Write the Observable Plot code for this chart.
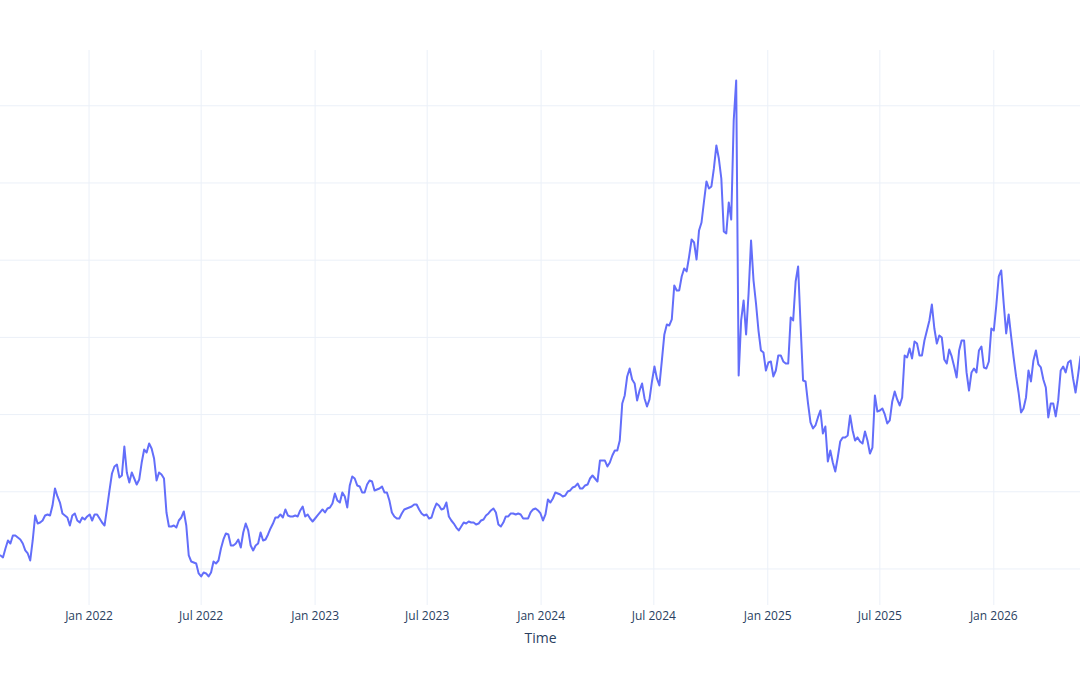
<!DOCTYPE html>
<html>
<head>
<meta charset="utf-8">
<script src="https://cdn.jsdelivr.net/npm/d3@7"></script>
<script src="https://cdn.jsdelivr.net/npm/@observablehq/plot@0.6"></script>
<style>
  html, body { margin: 0; padding: 0; background: #ffffff; }
  #chart { width: 1080px; height: 675px; }
</style>
</head>
<body>
<div id="chart"></div>
<script>
// ---- data ----
const startDate = "2021-08-11";   // first observation
const stepDays = 4;               // one reading every 4 days
const values = [
  11.75,11.49,12.65,13.69,13.30,14.34,14.34,14.08,13.82,13.30,
  12.40,12.01,11.10,13.69,16.93,15.89,16.02,16.28,16.93,17.06,
  16.93,18.22,20.43,19.39,18.61,17.19,16.93,16.67,15.63,16.93,
  17.19,16.28,16.02,16.67,16.41,16.80,17.06,16.28,17.06,17.06,
  16.54,16.02,15.63,17.84,20.17,22.37,23.28,23.53,21.85,22.11,
  25.86,22.50,21.20,22.50,21.72,20.94,21.59,23.79,25.47,25.09,
  26.25,25.60,24.31,21.46,22.50,22.24,21.72,17.32,15.50,15.50,
  15.63,15.37,16.28,16.67,17.45,15.63,11.75,10.97,10.84,10.71,
  9.42,9.03,9.55,9.42,9.03,9.55,10.97,10.71,11.10,12.65,
  13.82,14.60,14.47,13.04,13.04,13.30,13.82,12.78,14.73,15.89,
  14.99,13.04,12.40,13.04,13.30,14.73,13.69,13.82,14.47,15.25,
  15.89,16.67,16.67,17.06,16.67,17.71,16.93,16.80,16.80,16.93,
  16.80,17.58,18.09,16.80,17.06,16.54,16.15,16.54,16.93,17.32,
  17.71,17.32,17.84,17.97,18.48,19.78,18.87,18.61,19.91,19.39,
  17.97,20.82,21.98,21.72,20.82,20.69,19.91,19.91,20.94,21.46,
  21.33,20.17,20.30,20.43,20.69,19.91,19.91,18.87,17.32,16.80,
  16.54,16.54,17.19,17.71,17.84,17.97,18.09,18.35,18.35,17.71,
  17.19,16.93,17.06,16.54,16.67,17.71,18.48,18.22,17.71,17.84,
  18.61,16.80,16.28,15.89,15.37,14.99,15.50,16.02,15.89,16.15,
  16.02,16.02,15.76,15.89,16.28,16.41,16.93,17.19,17.58,17.84,
  17.32,15.76,15.50,16.02,16.80,16.80,17.19,17.19,17.06,17.19,
  17.06,16.54,16.54,16.54,17.32,17.71,17.84,17.58,17.19,16.28,
  17.06,19.00,18.61,19.13,19.91,19.78,19.65,19.39,19.52,20.04,
  20.17,20.56,20.69,21.07,20.43,20.43,20.82,20.94,21.72,22.11,
  21.72,21.33,24.05,24.05,24.05,23.28,23.79,24.70,25.35,25.35,
  26.64,31.44,32.48,34.94,35.97,34.55,34.03,31.83,33.12,34.03,
  32.09,31.05,31.96,34.29,36.23,34.68,33.77,37.01,40.38,41.67,
  41.54,42.32,46.72,46.08,46.08,47.89,48.93,48.54,50.48,52.68,
  52.29,50.09,53.85,54.88,57.60,60.20,59.29,59.55,61.88,64.86,
  63.17,60.58,53.72,53.46,57.47,55.27,68.10,73.28,35.07,42.19,
  44.78,40.38,45.69,52.55,47.37,44.39,40.89,38.30,38.05,35.71,
  36.75,36.88,34.94,35.71,37.66,37.66,36.88,36.62,36.62,42.58,
  42.19,47.24,49.19,41.54,34.42,34.29,31.44,28.98,28.20,28.59,
  29.63,30.53,27.55,28.46,23.92,25.35,23.79,22.63,24.44,26.51,
  27.04,27.04,27.29,29.89,27.94,26.64,27.04,26.51,26.25,27.81,
  26.64,24.96,25.73,32.48,30.40,30.53,30.79,30.02,28.85,29.24,
  31.70,32.99,31.96,31.18,32.22,37.66,37.40,38.56,37.27,39.47,
  39.21,37.66,37.66,39.60,40.89,42.19,44.26,41.15,39.21,40.25,
  39.99,37.14,36.62,38.43,37.53,36.23,34.81,38.30,39.60,39.60,
  35.46,33.12,35.46,35.97,35.46,38.30,38.82,36.10,35.97,36.88,
  41.15,40.89,44.13,47.89,48.67,44.39,40.51,42.97,40.12,37.40,
  34.94,32.86,30.27,30.79,32.22,35.71,34.29,37.01,38.30,36.49,
  36.10,34.55,33.51,29.63,31.44,31.44,29.76,31.83,35.71,36.23,
  35.46,36.75,37.01,34.68,32.86,35.07,37.53
];
const xTicks = ["2022-01-01","2022-07-01","2023-01-01","2023-07-01","2024-01-01",
                "2024-07-01","2025-01-01","2025-07-01","2026-01-01"];
const xDomain = ["2021-08-11","2026-05-21"];
const yGridValues = [10, 20, 30, 40, 50, 60, 70];
const yDomain = [5.27, 77.16];
const xLabel = "Time";

// ---- build table ----
const start = new Date(startDate);
const data = values.map((v, i) => ({date: d3.utcDay.offset(start, stepDays * i), value: v}));
const tickDates = xTicks.map(d => new Date(d));

const chart = Plot.plot({
  width: 1080,
  height: 675,
  marginLeft: 0,
  marginRight: 0,
  marginTop: 50,
  marginBottom: 70,
  style: {fontFamily: "'Open Sans', 'DejaVu Sans', sans-serif", background: "#ffffff", color: "#2a3f5f"},
  x: {type: "utc", domain: xDomain.map(d => new Date(d))},
  y: {domain: yDomain, axis: null},
  marks: [
    Plot.gridY(yGridValues, {stroke: "#EBF0F8", strokeOpacity: 1, strokeWidth: 1}),
    Plot.gridX(tickDates, {stroke: "#EBF0F8", strokeOpacity: 1, strokeWidth: 1}),
    Plot.axisX(tickDates, {
      tickSize: 0, tickPadding: 6, fontSize: 12, fill: "#2a3f5f",
      tickFormat: d3.utcFormat("%b %Y"), label: null
    }),
    Plot.text([xLabel], {frameAnchor: "bottom", dy: 37, fontSize: 14, fill: "#2a3f5f"}),
    Plot.lineY(data, {x: "date", y: "value", stroke: "#636efa", strokeWidth: 2})
  ]
});
document.getElementById("chart").appendChild(chart);
</script>
</body>
</html>
